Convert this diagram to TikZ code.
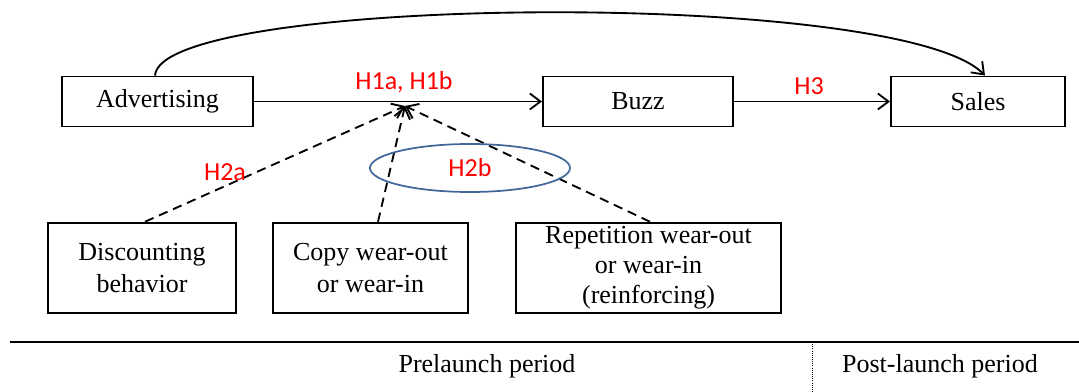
\documentclass[tikz,border=0pt]{standalone}
\usepackage{fontspec}
\setmainfont{Liberation Serif}
\newfontfamily\labelfont{Carlito}
\usetikzlibrary{arrows.meta,shapes.geometric}
\definecolor{ovalblue}{HTML}{41669A}
\tikzset{
  box/.style={draw, line width=1.4pt, minimum height=37.5pt, inner sep=0pt, align=center, font=\fontsize{19.5}{23.5}\selectfont},
  tallbox/.style={box, minimum height=68pt},
  hyp/.style={text=red, font=\labelfont\fontsize{19.5}{21}\selectfont},
  link/.style={line width=1.4pt, -{Straight Barb[length=8pt,width=12pt,line width=1.4pt]}},
  dlink/.style={link, dash pattern=on 7pt off 4.5pt},
  period/.style={font=\fontsize{19.5}{21}\selectfont}
}
\begin{document}
\begin{tikzpicture}[x=0.75pt,y=-0.75pt]
\useasboundingbox (0,0) rectangle (1079,392);
% outcome chain
\node[box, minimum width=143.25pt] (adv) at (157.5,101.5) {Advertising};
\node[box, minimum width=142.5pt] (buzz) at (638,101.5) {Buzz};
\node[box, minimum width=130.5pt] (sales) at (978,101.5) {Sales};
% moderators
\node[tallbox, minimum width=141pt] (disc) at (142,268) {Discounting\\behavior};
\node[tallbox, minimum width=146.25pt] (copy) at (370.5,268) {Copy wear-out\\or wear-in};
\node[tallbox, minimum width=198.75pt, font=\fontsize{19.5}{22.5}\selectfont] (rep) at (648.5,268) {Repetition wear-out\\or wear-in\\(reinforcing)};
% main paths
\draw[link] (adv.east) -- (buzz.west);
\draw[link] (buzz.east) -- (sales.west);
\node[hyp] (h1) at (404,82) {H1a, H1b};
\node[hyp] (h3) at (809,86) {H3};
\coordinate (meet) at (405,106);
\draw[link] (adv.north -| 155,0) .. controls (160,-5) and (900,-12) .. (sales.north -| 985,0);
% moderating paths
\draw[dlink] (disc.north -| 145,0) -- (meet);
\draw[dlink] (copy.north -| 378,0) -- (meet);
\draw[dlink] (rep.north -| 650,0) -- (meet);
\node[hyp] (h2a) at (225,172) {H2a};
\node[draw=ovalblue, line width=1.3pt, ellipse, minimum width=150pt, minimum height=36pt, inner sep=0pt] (ell) at (470,168) {};
\node[hyp] (h2b) at (ell.center) {H2b};
% time axis
\coordinate (axl) at (10,342);
\coordinate (axr) at (1079,342);
\draw[line width=1.5pt] (axl) -- (axr);
\coordinate (divtop) at (812,342);
\coordinate (divbot) at (812,392);
\draw[densely dotted, line width=0.6pt] (divtop) -- (divbot);
\node[period] (pre) at (487,366) {Prelaunch period};
\node[period] (post) at (940,366) {Post-launch period};
\end{tikzpicture}
\end{document}
